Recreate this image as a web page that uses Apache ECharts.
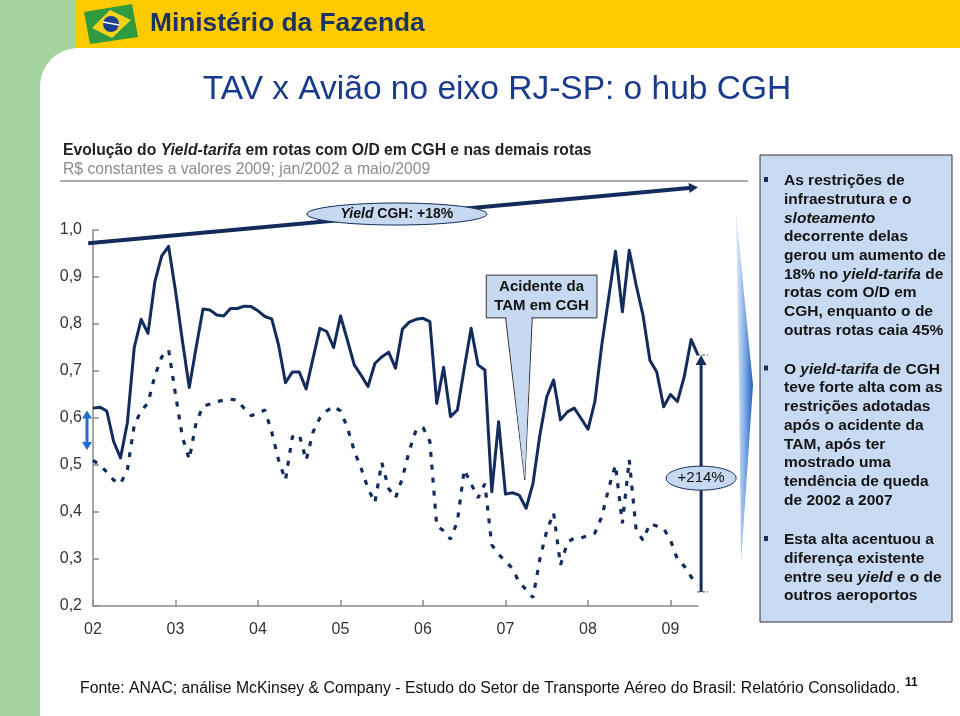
<!DOCTYPE html>
<html><head><meta charset="utf-8">
<script src="https://cdn.jsdelivr.net/npm/echarts@6/dist/echarts.min.js"></script>
<style>html,body{margin:0;padding:0;background:#fff}#c{width:960px;height:716px}</style>
</head><body><div id="c"></div>
<script>
// ---------- DATA ----------
const yearLabels = ['02','03','04','05','06','07','08','09'];
const monthNames = ['jan','fev','mar','abr','mai','jun','jul','ago','set','out','nov','dez'];
const categories = []; // jan/2002 .. mai/2009
for (let y = 0; y < yearLabels.length; y++) {
  for (let m = 0; m < 12; m++) {
    if (y === 7 && m > 4) break;
    categories.push(monthNames[m] + '/' + yearLabels[y]);
  }
}
const yTickLabels = ['0,2','0,3','0,4','0,5','0,6','0,7','0,8','0,9','1,0'];

// Yield-tarifa, rotas com O/D em CGH (linha cheia)
const yieldCGH = [
  0.621,0.623,0.615,0.550,0.515,0.590,0.750,0.810,0.780,0.890,0.945,0.965,
  0.870,0.765,0.665,0.750,0.832,0.830,0.819,0.817,0.833,0.833,0.838,0.837,
  0.828,0.816,0.811,0.755,0.675,0.698,0.698,0.662,0.727,0.791,0.784,0.750,
  0.817,0.766,0.713,0.691,0.667,0.716,0.730,0.740,0.706,0.789,0.804,0.810,
  0.812,0.805,0.631,0.708,0.603,0.617,0.706,0.791,0.713,0.702,0.443,0.592,
  0.438,0.441,0.436,0.408,0.461,0.564,0.645,0.681,0.596,0.613,0.621,0.599,
  0.576,0.635,0.755,0.855,0.955,0.826,0.957,0.883,0.819,0.723,0.698,0.624,
  0.650,0.635,0.688,0.767,0.734
];
// Yield-tarifa, demais rotas (linha tracejada)
const yieldDemais = [
  0.510,0.500,0.485,0.468,0.460,0.490,0.585,0.615,0.632,0.690,0.730,0.745,
  0.650,0.560,0.512,0.590,0.625,0.630,0.635,0.638,0.640,0.638,0.620,0.605,
  0.610,0.617,0.570,0.510,0.468,0.560,0.565,0.510,0.570,0.600,0.615,0.625,
  0.615,0.580,0.530,0.493,0.450,0.420,0.505,0.450,0.430,0.472,0.530,0.575,
  0.580,0.550,0.370,0.360,0.342,0.380,0.490,0.460,0.430,0.460,0.330,0.310,
  0.295,0.280,0.250,0.235,0.218,0.300,0.360,0.398,0.287,0.335,0.345,0.345,
  0.350,0.355,0.390,0.450,0.500,0.376,0.511,0.362,0.340,0.375,0.370,0.365,
  0.340,0.300,0.285,0.262,0.245
];

// ---------- TEXTS ----------
const headerText = 'Ministério da Fazenda';
const titleText = 'TAV x Avião no eixo RJ-SP: o hub CGH';
const subtitle1 = ['Evolução do ', '_Yield-tarifa_', ' em rotas com O/D em CGH e nas demais rotas'];
const subtitle2 = 'R$ constantes a valores 2009; jan/2002 a maio/2009';
const bullet1 = ['As restrições de','infraestrutura e o','_sloteamento_','decorrente delas','gerou um aumento de','18% no _yield-tarifa_ de','rotas com O/D em','CGH, enquanto o de','outras rotas caia 45%'];
const bullet2 = ['O _yield-tarifa_ de CGH','teve forte alta com as','restrições adotadas','após o acidente da','TAM, após ter','mostrado uma','tendência de queda','de 2002 a 2007'];
const bullet3 = ['Esta alta acentuou a','diferença existente','entre seu _yield_ e o de','outros aeroportos'];
const footerText = 'Fonte: ANAC; análise McKinsey & Company - Estudo do Setor de Transporte Aéreo do Brasil: Relatório Consolidado.';

const FONT = "'Liberation Sans', Arial, Helvetica, sans-serif";
const NAVY = '#132c5c';
const LIGHTBLUE = '#c6d9f1';

const chart = echarts.init(document.getElementById('c'), null, {renderer: 'canvas', width: 960, height: 716});

const option = {
  animation: false,
  backgroundColor: '#ffffff',
  grid: {left: 93, right: 262, top: 230, bottom: 110, containLabel: false},
  xAxis: {
    type: 'category', data: categories, boundaryGap: false,
    axisLine: {lineStyle: {color: '#8a8a8a', width: 1.5}},
    axisTick: {show: true, inside: true, length: 6, interval: (i) => i % 12 === 0, lineStyle: {color: '#8a8a8a', width: 1.5}},
    axisLabel: {interval: (i) => i % 12 === 0, formatter: (v, i) => yearLabels[Math.round(i / 12)],
      color: '#333', fontSize: 16, fontFamily: FONT, margin: 16},
    splitLine: {show: false}
  },
  yAxis: {
    type: 'value', min: 0.2, max: 1.0, interval: 0.1,
    axisLine: {show: true, lineStyle: {color: '#8a8a8a', width: 1.5}},
    axisTick: {show: true, inside: true, length: 6, lineStyle: {color: '#8a8a8a', width: 1.5}},
    axisLabel: {formatter: (v) => yTickLabels[Math.round((v - 0.2) * 10)], color: '#333', fontSize: 16, fontFamily: FONT, margin: 11},
    splitLine: {show: false}
  },
  series: [
    {name: 'CGH', type: 'line', data: yieldCGH, symbol: 'none', z: 4,
      lineStyle: {color: NAVY, width: 3, join: 'round'}},
    {name: 'Demais rotas', type: 'line', data: yieldDemais, symbol: 'none', z: 3,
      lineStyle: {color: NAVY, width: 3.2, type: [5, 8]}}
  ]
};
chart.setOption(option);

// ---------- helpers ----------
const pt = (i, v) => chart.convertToPixel({xAxisIndex: 0, yAxisIndex: 0}, [i, v]);
const xA = pt(0, 0.5)[0], xB = pt(88, 0.5)[0];
const X = (i) => xA + (xB - xA) * i / 88;
const Y = (v) => pt(0, v)[1];

function richLine(str, b, bi) {
  const parts = str.split('_');
  return parts.map((p, k) => p ? '{' + (k % 2 ? bi : b) + '|' + p + '}' : '').join('');
}
function arrowHead(x, y, ang, len, half, color, z) {
  const bx = x - len * Math.cos(ang), by = y - len * Math.sin(ang);
  const px = -Math.sin(ang) * half, py = Math.cos(ang) * half;
  return {type: 'polygon', z: z, shape: {points: [[x, y], [bx + px, by + py], [bx - px, by - py]]}, style: {fill: color}};
}

const G = [];
// background: green strip, yellow header, white rounded area
G.push({type: 'rect', z: -20, shape: {x: 0, y: 0, width: 75, height: 716}, style: {fill: '#a4d39f'}});
G.push({type: 'rect', z: -20, shape: {x: 75, y: 0, width: 885, height: 48}, style: {fill: '#fecb00'}});
G.push({type: 'rect', z: -19, shape: {x: 40, y: 48, width: 920, height: 668, r: [38, 0, 0, 0]}, style: {fill: '#ffffff'}});
// flag logo
G.push({type: 'polygon', z: 10, shape: {points: [[84, 12], [132, 4], [138, 37], [90, 44]]}, style: {fill: '#2f9a3f'}});
G.push({type: 'polygon', z: 11, shape: {points: [[92, 28], [110, 10], [131, 20], [112, 38]]}, style: {fill: '#f4d21a'}});
G.push({type: 'circle', z: 12, shape: {cx: 111, cy: 24, r: 8}, style: {fill: '#1e3f8f'}});
G.push({type: 'line', z: 13, shape: {x1: 103, y1: 22, x2: 119, y2: 25}, style: {stroke: '#ffffff', lineWidth: 1.5}});
// header text
G.push({type: 'text', z: 10, x: 150, y: 24, style: {text: headerText, font: 'bold 26.3px ' + FONT, fill: '#1d3461', textVerticalAlign: 'middle'}});
// title
G.push({type: 'text', z: 10, x: 497, y: 90, style: {text: titleText, font: '33.5px ' + FONT, fill: '#1a3a8c', textAlign: 'center', textVerticalAlign: 'middle'}});
// chart subtitle
G.push({type: 'text', z: 10, x: 63, y: 151, style: {
  text: subtitle1.map(s => richLine(s, 'b', 'bi')).join(''), textVerticalAlign: 'middle',
  rich: {b: {fontSize: 15.7, fontWeight: 'bold', fontFamily: FONT, fill: '#222'},
         bi: {fontSize: 15.7, fontWeight: 'bold', fontStyle: 'italic', fontFamily: FONT, fill: '#222'}}}});
G.push({type: 'text', z: 10, x: 63, y: 170, style: {text: subtitle2, font: '15.7px ' + FONT, fill: '#8c8c8c', textVerticalAlign: 'middle'}});
G.push({type: 'line', z: 10, shape: {x1: 60, y1: 181, x2: 748, y2: 181}, style: {stroke: '#555', lineWidth: 1}});

// trend line "Yield CGH: +18%"
const t0 = [X(-0.7), Y(0.972)], t1 = [X(88), Y(1.091)];
const tAng = Math.atan2(t1[1] - t0[1], t1[0] - t0[0]);
G.push({type: 'line', z: 50, shape: {x1: t0[0], y1: t0[1], x2: t1[0] - 6 * Math.cos(tAng), y2: t1[1] - 6 * Math.sin(tAng)}, style: {stroke: NAVY, lineWidth: 4}});
G.push(arrowHead(t1[0], t1[1], tAng, 9, 5, NAVY, 50));
G.push({type: 'ellipse', z: 51, shape: {cx: X(44.2), cy: Y(1.034), rx: 90, ry: 11}, style: {fill: LIGHTBLUE, stroke: NAVY, lineWidth: 1}});
G.push({type: 'text', z: 52, x: X(44.2), y: Y(1.034), style: {
  text: richLine('_Yield_ CGH: +18%', 'b', 'bi'), textAlign: 'center', textVerticalAlign: 'middle',
  rich: {b: {fontSize: 14, fontWeight: 'bold', fontFamily: FONT, fill: '#111'},
         bi: {fontSize: 14, fontWeight: 'bold', fontStyle: 'italic', fontFamily: FONT, fill: '#111'}}}});

// blue double arrow at the left
const dax = X(0) - 6, day1 = Y(0.616), day2 = Y(0.532);
const BLUE = '#1f6fd1';
G.push({type: 'line', z: 50, shape: {x1: dax, y1: day1 + 6, x2: dax, y2: day2 - 6}, style: {stroke: BLUE, lineWidth: 3}});
G.push(arrowHead(dax, day1, -Math.PI / 2, 8, 5, BLUE, 50));
G.push(arrowHead(dax, day2, Math.PI / 2, 8, 5, BLUE, 50));

// callout "Acidente da TAM em CGH"
const cbx1 = X(57.2), cbx2 = X(73.3), cby1 = Y(0.904), cby2 = Y(0.813);
G.push({type: 'polygon', z: 55, shape: {points: [[X(60.0), cby2 - 1], [X(62.8), Y(0.468)], [X(63.9), cby2 - 1]]}, style: {fill: LIGHTBLUE, stroke: '#333', lineWidth: 1}});
G.push({type: 'rect', z: 56, shape: {x: cbx1, y: cby1, width: cbx2 - cbx1, height: cby2 - cby1}, style: {fill: LIGHTBLUE, stroke: '#333', lineWidth: 1}});
G.push({type: 'polygon', z: 57, shape: {points: [[X(60.0) + 1, cby2 - 1.5], [X(62.8), Y(0.47)], [X(63.9) - 1, cby2 - 1.5]]}, style: {fill: LIGHTBLUE}});
G.push({type: 'text', z: 58, x: (cbx1 + cbx2) / 2, y: (cby1 + cby2) / 2, style: {text: 'Acidente da\nTAM em CGH', font: 'bold 15px ' + FONT, fill: '#111', textAlign: 'center', textVerticalAlign: 'middle', lineHeight: 19}});

// vertical arrow +214%
const vx = X(88.45), vTop = Y(0.734), vBot = Y(0.23);
G.push({type: 'line', z: 50, shape: {x1: vx, y1: vBot, x2: vx, y2: vTop + 8}, style: {stroke: NAVY, lineWidth: 3}});
G.push(arrowHead(vx, vTop, -Math.PI / 2, 10, 5.5, NAVY, 50));
G.push({type: 'line', z: 50, shape: {x1: vx - 4, y1: vTop, x2: vx + 7, y2: vTop}, style: {stroke: '#444', lineWidth: 1, lineDash: [3, 2]}});
G.push({type: 'line', z: 50, shape: {x1: vx - 4, y1: vBot, x2: vx + 7, y2: vBot}, style: {stroke: '#444', lineWidth: 1, lineDash: [3, 2]}});
G.push({type: 'ellipse', z: 51, shape: {cx: vx, cy: Y(0.472), rx: 35, ry: 12}, style: {fill: LIGHTBLUE, stroke: NAVY, lineWidth: 1}});
G.push({type: 'text', z: 52, x: vx, y: Y(0.472), style: {text: '+214%', font: '15px ' + FONT, fill: '#111', textAlign: 'center', textVerticalAlign: 'middle'}});

// big blue wedge
G.push({type: 'polygon', z: 20, shape: {points: [[736, 212], [753, 385], [741, 562], [739, 385]]},
  style: {fill: new echarts.graphic.LinearGradient(0, 0, 1, 0, [{offset: 0, color: 'rgba(60,130,220,0.15)'}, {offset: 1, color: '#1c60c4'}])}});

// right text box
G.push({type: 'rect', z: 20, shape: {x: 760, y: 155, width: 192, height: 467}, style: {fill: '#c8daf1', stroke: '#333', lineWidth: 1}});
const LH = 18.7;
const boxRich = {
  b: {fontSize: 15.5, fontWeight: 'bold', fontFamily: FONT, fill: '#141414', lineHeight: LH},
  bi: {fontSize: 15.5, fontWeight: 'bold', fontStyle: 'italic', fontFamily: FONT, fill: '#141414', lineHeight: LH}
};
[[bullet1, 181], [bullet2, 369.5], [bullet3, 540]].forEach(([lines, y0]) => {
  G.push({type: 'rect', z: 21, shape: {x: 764, y: y0 - 4, width: 4, height: 5}, style: {fill: '#1a2f5a'}});
  G.push({type: 'text', z: 21, x: 784, y: y0 - LH / 2, style: {
    text: lines.map(l => richLine(l, 'b', 'bi')).join('\n'), textVerticalAlign: 'top', rich: boxRich}});
});

// footer
G.push({type: 'text', z: 10, x: 80, y: 689, scaleX: 0.985, style: {text: footerText, font: '16px ' + FONT, fill: '#111', textVerticalAlign: 'middle'}});
G.push({type: 'text', z: 10, x: 905, y: 683, style: {text: '11', font: 'bold 12px ' + FONT, fill: '#111', textVerticalAlign: 'middle'}});

chart.setOption({graphic: {elements: G}});
</script></body></html>
